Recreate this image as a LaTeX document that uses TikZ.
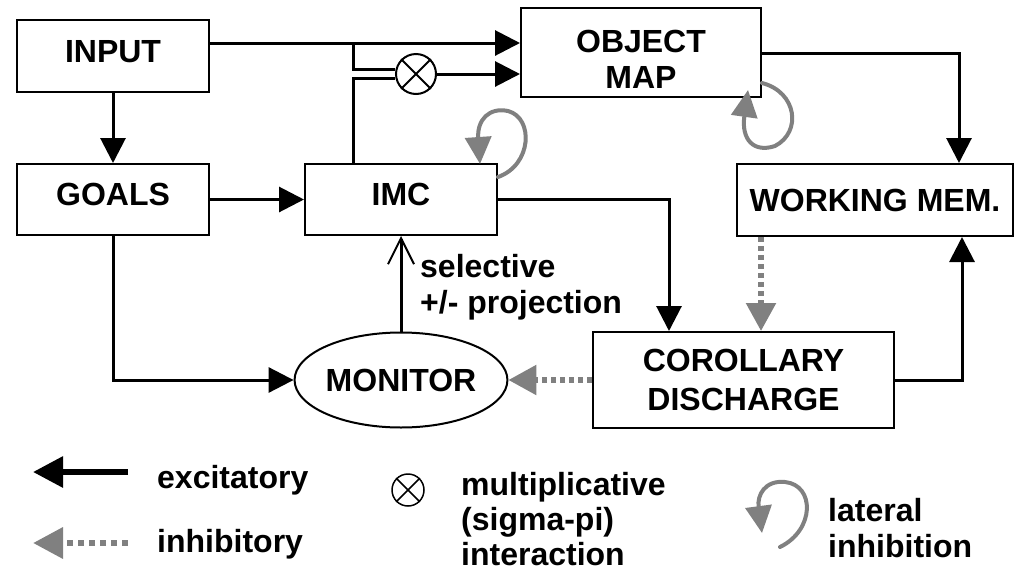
\documentclass[tikz,border=0pt]{standalone}
\usepackage{fontspec}
\setmainfont{Liberation Sans}
\usetikzlibrary{arrows.meta,shapes.geometric}
\begin{document}
\begin{tikzpicture}[x=1pt,y=-1pt,
  font=\fontsize{32}{36}\selectfont\bfseries,
  box/.style={draw, line width=2pt, inner sep=0pt, align=center, rectangle},
  raised/.style={text depth=10pt},
  exc/.style={line width=3pt, -{Triangle[length=25pt,width=25pt]}},
  plain/.style={line width=3pt},
  inh/.style={draw=gray, line width=5.5pt, dash pattern=on 5pt off 4pt, -{Triangle[length=28pt,width=29pt]}},
  lat/.style={draw=gray, line width=4pt, line cap=round, -{Triangle[length=27pt,width=26pt]}},
  mult/.style={circle, draw, line width=2pt, inner sep=0pt},
  lbl/.style={inner sep=0pt, align=left, anchor=north west}
]
\useasboundingbox (0,0) rectangle (1015,571);

% boxes
\node[box, raised, minimum width=192pt, minimum height=72pt] (input) at (113,56) {INPUT};
\node[box, raised, minimum width=192pt, minimum height=71pt] (goals) at (113,199.5) {GOALS};
\node[box, raised, minimum width=192pt, minimum height=71pt] (imc) at (401,199.5) {IMC};
\node[box, minimum width=240pt, minimum height=89pt] (om) at (641,52.5) {\rule{0pt}{36pt}OBJECT\\MAP};
\node[box, minimum width=276pt, minimum height=72pt] (wm) at (875,200) {WORKING MEM.};
\node[box, minimum width=301pt, minimum height=96pt] (cor) at (743.5,380) {COROLLARY\\[3pt]DISCHARGE};
\node[ellipse, draw, line width=2pt, inner sep=0pt, minimum width=192pt, minimum height=95pt] (mon) at (401,380) {MONITOR};
\node[mult, minimum size=40pt] (mx) at (416,74) {};
\draw[line width=2pt] (mx.north west) -- (mx.south east) (mx.north east) -- (mx.south west);

% connectors
\draw[exc] (input.east |- 0,43) -- (om.west |- 0,43);
\coordinate (j1) at (353,43);
\draw[plain] (j1) |- ([yshift=5pt]mx.west);
\draw[plain] (imc.north -| 353,0) |- ([yshift=-4pt]mx.west);
\draw[exc] (mx.east) -- (om.west |- mx.east);
\draw[exc] (input) -- (goals);
\draw[exc] (goals) -- (imc);
\draw[exc] (imc.east) -| (cor.north -| 669,0);
\draw[exc] (om.east |- 0,53) -| (wm.north -| 959,0);
\draw[inh] (wm.south -| 761,0) -- (cor.north -| 761,0);
\draw[exc] (cor.east) -| (wm.south -| 962,0);
\draw[exc] (goals.south) |- (mon.west);
\draw[line width=3pt, -{Straight Barb[length=26pt,width=26pt,line width=2pt]}] (mon.north) -- (imc.south);
\draw[inh] (cor.west) -- (mon.east);
\node[lbl] (sel) at (420,254) {selective\\+/- projection};

% lateral inhibition loops
\draw[lat] (imc.east |- 0,177) .. controls (532,165) and (534,118) .. (508,111) .. controls (489,107) and (477,120) .. (480,164);
\draw[lat] (om.east |- 0,83) .. controls (797,92) and (802,132) .. (775,146) .. controls (754,153) and (741,140) .. (748,90);

% legend
\coordinate (ea) at (128,472);
\coordinate (eb) at (33,472);
\draw[line width=6pt, -{Triangle[length=30pt,width=30pt]}] (ea) -- (eb);
\node[anchor=base west, inner sep=0pt] (ext) at (157,488) {excitatory};
\coordinate (ia) at (128,543);
\coordinate (ib) at (33,543);
\draw[draw=gray, line width=6.5pt, dash pattern=on 6pt off 5pt, -{Triangle[length=30pt,width=30pt]}] (ia) -- (ib);
\node[anchor=base west, inner sep=0pt] (inht) at (157,552) {inhibitory};
\node[mult, line width=1.5pt, minimum size=32pt] (lm) at (408,490) {};
\draw[line width=1.5pt] (lm.north west) -- (lm.south east) (lm.north east) -- (lm.south west);
\node[lbl, font=\fontsize{32}{35}\selectfont\bfseries] (mt) at (461,472) {multiplicative\\(sigma-pi)\\interaction};
\coordinate (la) at (780,547);
\coordinate (lb) at (762,533);
\draw[lat] (la) .. controls (815,530) and (815,485) .. (785,482) .. controls (765,480) and (757,495) .. (lb);
\node[lbl] (lt) at (828,498) {lateral\\inhibition};
\end{tikzpicture}
\end{document}
